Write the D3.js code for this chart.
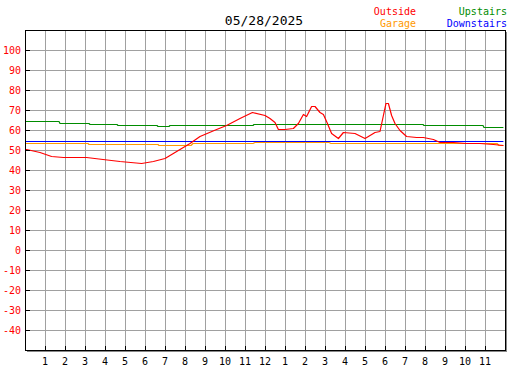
<!DOCTYPE html>
<html><head><meta charset="utf-8">
<script src="https://cdn.jsdelivr.net/npm/d3@7"></script>
<style>html,body{margin:0;padding:0;background:#fff;}svg{display:block;}</style>
</head><body><svg id="chart" width="527" height="370"></svg>
<script>
const title = "05/28/2025";
const yTicks = [100, 90, 80, 70, 60, 50, 40, 30, 20, 10, 0, -10, -20, -30, -40];
const hourTicks = [1,2,3,4,5,6,7,8,9,10,11,12,13,14,15,16,17,18,19,20,21,22,23];
const hourLabels = ["1","2","3","4","5","6","7","8","9","10","11","12","1","2","3","4","5","6","7","8","9","10","11"];
const seriesNames = ["Outside", "Garage", "Upstairs", "Downstairs"];

const outsideHours = [0,0.08,0.75,1.33,1.92,3.08,3.9,4.75,5.83,6.42,7.0,7.5,8.25,8.75,9.58,10.08,10.75,11.37,12.0,12.25,12.5,12.67,13.0,13.42,13.67,13.92,14.08,14.33,14.5,14.75,14.92,15.1,15.33,15.67,15.92,16.5,17.0,17.17,17.5,17.75,17.92,18.05,18.17,18.33,18.5,18.75,19.08,19.58,19.92,20.42,20.75,21.42,22.08,22.75,23.42,23.92];
const outsideTemps = [50.4,50.3,49.2,47.0,46.3,46.3,45.3,44.3,43.3,44.3,45.8,49.2,53.3,57.0,60.3,62.5,65.8,68.8,67.5,65.8,64.2,60.3,60.3,60.8,63.3,67.8,67.0,72.0,72.0,69.2,68.0,64.2,58.3,55.8,59.2,58.7,55.8,57.0,59.2,59.7,67.5,73.7,73.3,67.5,63.3,60.0,57.2,56.3,56.3,55.5,54.2,53.8,53.3,53.3,52.8,52.3];

const garageHours = [0,3.15,3.2,6.65,6.7,8.3,8.4,11.4,11.5,15.2,15.3,23.6,23.7,23.92];
const garageTemps = [53.3,53.3,52.8,52.8,52.3,52.3,53.3,53.3,53.8,53.8,53.3,53.3,52.5,52.5];

const upstairsHours = [0,1.7,1.75,3.2,3.25,4.6,4.65,6.6,6.65,7.2,7.25,11.4,11.45,19.9,19.95,22.9,22.95,23.92];
const upstairsTemps = [64.3,64.3,63.6,63.6,63.1,63.1,62.6,62.6,62.2,62.2,62.5,62.5,62.8,62.8,62.3,62.3,61.5,61.5];

const downstairsHours = [0,8.0,8.05,15.2,15.25,23.92];
const downstairsTemps = [54.7,54.7,54.5,54.5,54.3,54.3];

const svg = d3.select("#chart");
const L = 25, R = 505, T = 30, B = 350;
const x = d3.scaleLinear().domain([0, 24]).range([L, R]);
const y = d3.scaleLinear().domain([-50, 110]).range([B, T]);
const colors = {Outside:"#ff0000", Garage:"#ff9900", Upstairs:"#008c00", Downstairs:"#0000ff"};
const mono = "'DejaVu Sans Mono', 'Liberation Mono', monospace";

// shadow
svg.append("rect").attr("x", L+2).attr("y", T+2).attr("width", R-L).attr("height", B-T)
  .attr("fill", "#888").attr("shape-rendering","crispEdges");
svg.append("rect").attr("x", L).attr("y", T).attr("width", R-L).attr("height", B-T)
  .attr("fill", "#fff").attr("shape-rendering","crispEdges");

// grid
const grid = svg.append("g").attr("stroke", "#a0a0a0").attr("stroke-width", 1).attr("shape-rendering","crispEdges");
grid.selectAll("line.v").data(hourTicks).join("line").attr("class", "v")
  .attr("x1", d => Math.round(x(d)) + 0.5).attr("x2", d => Math.round(x(d)) + 0.5)
  .attr("y1", T).attr("y2", B);
grid.selectAll("line.h").data(yTicks).join("line").attr("class", "h")
  .attr("x1", L).attr("x2", R)
  .attr("y1", d => Math.round(y(d)) + 0.5).attr("y2", d => Math.round(y(d)) + 0.5);

// series
function drawSeries(hours, temps, color) {
  const pts = hours.map((h, i) => [h, temps[i]]);
  svg.append("path").datum(pts)
    .attr("d", d3.line().x(d => x(d[0])).y(d => Math.round(y(d[1])) + 0.5))
    .attr("fill", "none").attr("stroke", color).attr("stroke-width", 1.2)
    .attr("stroke-linejoin", "round");
}
drawSeries(upstairsHours, upstairsTemps, colors.Upstairs);
drawSeries(downstairsHours, downstairsTemps, colors.Downstairs);
drawSeries(garageHours, garageTemps, colors.Garage);
drawSeries(outsideHours, outsideTemps, colors.Outside);

// frame
svg.append("rect").attr("x", L + 0.5).attr("y", T + 0.5).attr("width", R - L).attr("height", B - T)
  .attr("fill", "none").attr("stroke", "#000").attr("stroke-width", 1).attr("shape-rendering","crispEdges");

// ticks
const tk = svg.append("g").attr("stroke", "#000").attr("shape-rendering","crispEdges");
tk.selectAll("line.yt").data(yTicks).join("line").attr("class", "yt")
  .attr("x1", L).attr("x2", L + 5)
  .attr("y1", d => Math.round(y(d)) + 0.5).attr("y2", d => Math.round(y(d)) + 0.5);
tk.selectAll("line.xt").data(hourTicks).join("line").attr("class", "xt")
  .attr("x1", d => Math.round(x(d)) + 0.5).attr("x2", d => Math.round(x(d)) + 0.5)
  .attr("y1", B - 4).attr("y2", B);

// y labels
svg.append("g").selectAll("text").data(yTicks).join("text")
  .attr("x", 21).attr("y", d => y(d) + 3.5)
  .attr("text-anchor", "end").attr("fill", "#ff0000")
  .attr("font-family", mono).attr("font-size", 10)
  .text(d => d);

// x labels
svg.append("g").selectAll("text").data(hourTicks).join("text")
  .attr("x", d => x(d)).attr("y", 365)
  .attr("text-anchor", "middle").attr("fill", "#000")
  .attr("font-family", mono).attr("font-size", 10)
  .text((d, i) => hourLabels[i]);

// title
svg.append("text").attr("x", 264).attr("y", 25).attr("text-anchor", "middle")
  .attr("font-family", mono).attr("font-size", 13).attr("fill", "#000").text(title);

// legend
const legendPos = [[416, 15], [416, 27], [507, 15], [507, 27]];
svg.append("g").selectAll("text").data(seriesNames).join("text")
  .attr("x", (d, i) => legendPos[i][0]).attr("y", (d, i) => legendPos[i][1])
  .attr("text-anchor", "end").attr("fill", d => colors[d])
  .attr("font-family", mono).attr("font-size", 10)
  .text(d => d);
</script></body></html>
